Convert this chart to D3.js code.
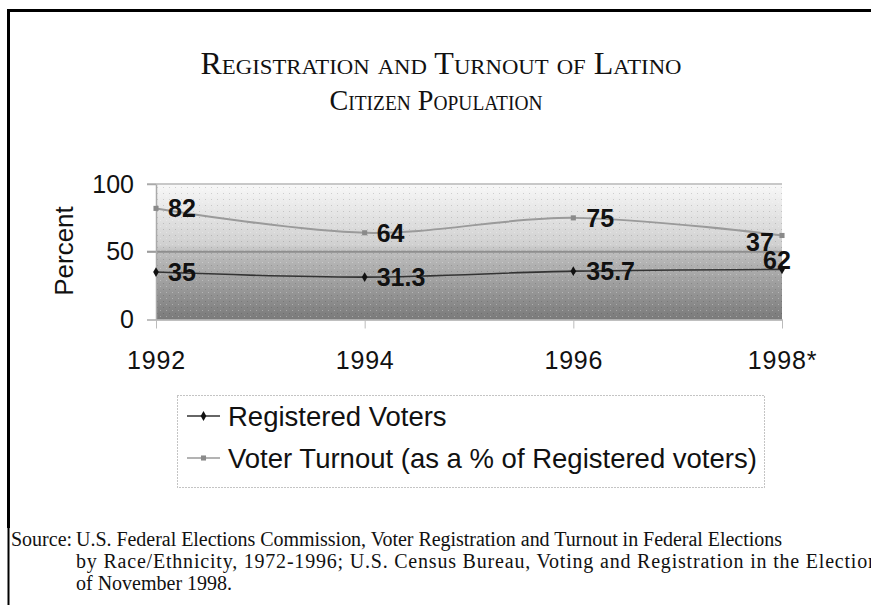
<!DOCTYPE html>
<html>
<head>
<meta charset="utf-8">
<script src="https://cdn.jsdelivr.net/npm/d3@7"></script>
<style>
  html, body { margin: 0; padding: 0; background: #fff; }
  svg { display: block; }
</style>
</head>
<body>
<svg id="chart" width="871" height="605"></svg>
<script>
// ---- data ----
const years = ["1992", "1994", "1996", "1998*"];
const registered = [35, 31.3, 35.7, 37];
const turnout = [82, 64, 75, 62];
const yTickValues = [0, 50, 100];
const registeredLabels = ["35", "31.3", "35.7", "37"];
const turnoutLabels = ["82", "64", "75", "62"];
const seriesNames = ["Registered Voters", "Voter Turnout (as a % of Registered voters)"];
const titleLines = ["Registration and Turnout of Latino", "Citizen Population"];
const sourceLines = [
  "U.S. Federal Elections Commission, Voter Registration and Turnout in Federal Elections",
  "by Race/Ethnicity, 1972-1996; U.S. Census Bureau, Voting and Registration in the Election",
  "of November 1998."
];

const svg = d3.select("#chart");
const sans = "'Liberation Sans', Arial, sans-serif";
const serif = "'Liberation Serif', 'Times New Roman', serif";

// ---- frame ----
svg.append("line").attr("x1", 7).attr("x2", 871).attr("y1", 10.5).attr("y2", 10.5)
  .attr("stroke", "#000").attr("stroke-width", 3);
svg.append("line").attr("x1", 8.5).attr("x2", 8.5).attr("y1", 9).attr("y2", 528)
  .attr("stroke", "#000").attr("stroke-width", 3);
svg.append("line").attr("x1", 8.5).attr("x2", 8.5).attr("y1", 528).attr("y2", 605)
  .attr("stroke", "#000").attr("stroke-width", 2);

// ---- title ----
const titleWidths = [481, 213];
const titleSizes = [31, 29];
const titleCx = [441, 436];
svg.append("g").selectAll("text").data(titleLines).join("text")
  .attr("x", (d, i) => titleCx[i]).attr("y", (d, i) => 74 + i * 36)
  .attr("text-anchor", "middle")
  .attr("font-family", serif)
  .attr("font-size", (d, i) => titleSizes[i])
  .attr("textLength", (d, i) => titleWidths[i])
  .attr("lengthAdjust", "spacingAndGlyphs")
  .style("font-variant", "small-caps")
  .attr("fill", "#111")
  .text(d => d);

// ---- scales ----
const x = d3.scalePoint().domain(years).range([156, 782]);
const y = d3.scaleLinear().domain([0, 100]).range([319.5, 184]);

// ---- background ----
const defs = svg.append("defs");
const grad = defs.append("linearGradient").attr("id", "bg")
  .attr("x1", 0).attr("x2", 0).attr("y1", 0).attr("y2", 1);
[[0, "#f8f8f8"], [0.45, "#d0d0d0"], [0.5, "#bebebe"], [1, "#7a7a7a"]].forEach(([o, c]) =>
  grad.append("stop").attr("offset", o).attr("stop-color", c));
const pat = defs.append("pattern").attr("id", "dots").attr("patternUnits", "userSpaceOnUse")
  .attr("width", 6).attr("height", 6);
pat.append("rect").attr("x", 1).attr("y", 1).attr("width", 1).attr("height", 1).attr("fill", "#000").attr("opacity", 0.15);
pat.append("rect").attr("x", 4).attr("y", 4).attr("width", 1).attr("height", 1).attr("fill", "#fff").attr("opacity", 0.3);

const [x0, x1] = x.range();
svg.append("rect").attr("x", x0).attr("y", y(100)).attr("width", x1 - x0).attr("height", y(0) - y(100))
  .attr("fill", "url(#bg)");
svg.append("rect").attr("x", x0).attr("y", y(100)).attr("width", x1 - x0).attr("height", y(0) - y(100))
  .attr("fill", "url(#dots)");

// ---- grid lines ----
svg.append("g").selectAll("line").data([100, 50]).join("line")
  .attr("x1", x0 - 9).attr("x2", x1)
  .attr("y1", d => y(d)).attr("y2", d => y(d))
  .attr("stroke", d => d === 50 ? "#8e8e8e" : "#c8c8c8")
  .attr("stroke-width", 2);

// ---- axes ----
const yAxis = svg.append("g").attr("transform", `translate(${x0},0)`)
  .call(d3.axisLeft(y).tickValues(yTickValues).tickSize(9).tickSizeOuter(0).tickPadding(13));
yAxis.select(".domain").attr("stroke", "#aaa").attr("stroke-width", 1.5);
yAxis.selectAll(".tick line").attr("stroke", "#aaa").attr("stroke-width", 1.5);
yAxis.selectAll(".tick text").attr("font-family", sans).attr("font-size", 25).attr("fill", "#111");

const xAxis = svg.append("g").attr("transform", `translate(0,${y(0)})`)
  .call(d3.axisBottom(x).tickSize(9).tickSizeOuter(0).tickPadding(23));
xAxis.select(".domain").attr("stroke", "#aaa").attr("stroke-width", 1.5);
xAxis.selectAll(".tick line").attr("stroke", "#bbb").attr("stroke-width", 1);
xAxis.selectAll(".tick text").attr("font-family", sans).attr("font-size", 25)
  .attr("letter-spacing", 0.8).attr("fill", "#111");

svg.append("text").attr("transform", `translate(73,251) rotate(-90)`)
  .attr("text-anchor", "middle").attr("font-family", sans).attr("font-size", 26).attr("fill", "#111")
  .text("Percent");

// ---- lines ----
const line = d3.line().x((d, i) => x(years[i])).y(d => y(d)).curve(d3.curveCatmullRom.alpha(0.5));
svg.append("path").datum(turnout).attr("d", line).attr("fill", "none")
  .attr("stroke", "#9a9a9a").attr("stroke-width", 2);
svg.append("path").datum(registered).attr("d", line).attr("fill", "none")
  .attr("stroke", "#333").attr("stroke-width", 1.6);

const diamond = d3.symbol().type(d3.symbolDiamond).size(28);
const square = d3.symbol().type(d3.symbolSquare).size(26);
svg.append("g").selectAll("path").data(turnout).join("path")
  .attr("d", square).attr("transform", (d, i) => `translate(${x(years[i])},${y(d)})`)
  .attr("fill", "#8a8a8a");
svg.append("g").selectAll("path").data(registered).join("path")
  .attr("d", diamond).attr("transform", (d, i) => `translate(${x(years[i])},${y(d)})`)
  .attr("fill", "#111");

// ---- data labels ----
const regOffsets = [[12, 0], [12, 0], [13, 0], [-36, -27]];
const turnOffsets = [[12, 0], [12, 0], [13, 0], [-19, 25]];
function labels(vals, texts, offs) {
  svg.append("g").selectAll("text").data(vals).join("text")
    .attr("x", (d, i) => x(years[i]) + offs[i][0])
    .attr("y", (d, i) => y(d) + offs[i][1])
    .attr("dy", "0.36em")
    .attr("font-family", sans).attr("font-size", 25).attr("font-weight", "bold").attr("fill", "#111")
    .text((d, i) => texts[i]);
}
labels(turnout, turnoutLabels, turnOffsets);
labels(registered, registeredLabels, regOffsets);

// ---- legend ----
const lg = svg.append("g");
lg.append("rect").attr("x", 177.5).attr("y", 395.5).attr("width", 587).attr("height", 92)
  .attr("fill", "#fff").attr("stroke", "#888").attr("stroke-width", 1).attr("stroke-dasharray", "1,2");
const legendItems = [
  { name: seriesNames[0], color: "#333", mark: diamond, markColor: "#111" },
  { name: seriesNames[1], color: "#9a9a9a", mark: square, markColor: "#8a8a8a" }
];
legendItems.forEach((it, i) => {
  const yy = 416 + i * 42;
  lg.append("line").attr("x1", 187).attr("x2", 220).attr("y1", yy).attr("y2", yy)
    .attr("stroke", it.color).attr("stroke-width", 1.5);
  lg.append("path").attr("d", it.mark).attr("transform", `translate(203.5,${yy})`).attr("fill", it.markColor);
  lg.append("text").attr("x", 228).attr("y", yy).attr("dy", "0.36em")
    .attr("font-family", sans).attr("font-size", 27.5).attr("fill", "#111").text(it.name);
});

// ---- source ----
const sourceLengths = [706, 802, null];
svg.append("text").attr("x", 11).attr("y", 546).attr("font-family", serif).attr("font-size", 20)
  .attr("fill", "#111").text("Source:");
svg.append("g").selectAll("text").data(sourceLines).join("text")
  .attr("x", 76).attr("y", (d, i) => 546 + i * 22)
  .attr("font-family", serif).attr("font-size", 20).attr("fill", "#111")
  .each(function (d, i) {
    if (sourceLengths[i]) d3.select(this).attr("textLength", sourceLengths[i]).attr("lengthAdjust", "spacing");
  })
  .text(d => d);
</script>
</body>
</html>
